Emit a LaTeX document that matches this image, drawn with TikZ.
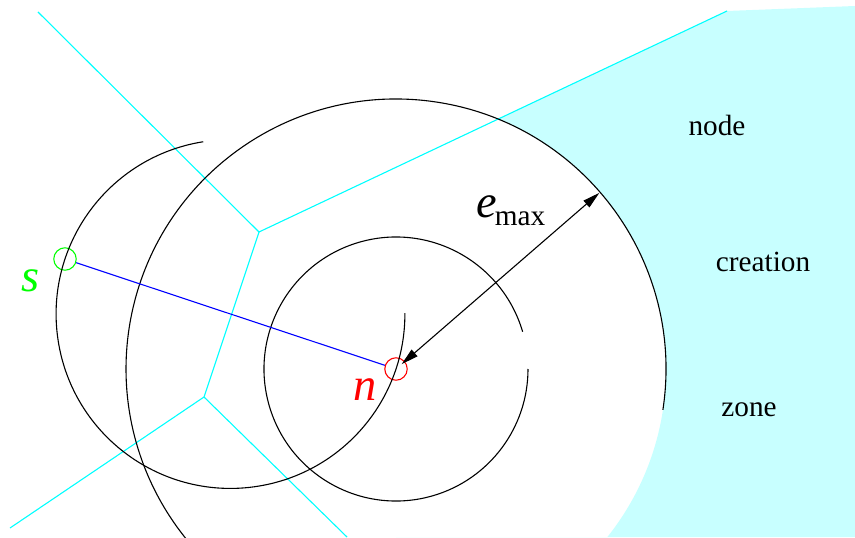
\documentclass[tikz,border=0pt]{standalone}
\usepackage{fontspec}
\setmainfont{Liberation Serif}
\usepackage{tikz}
\usetikzlibrary{calc, arrows.meta}
\definecolor{zonefill}{HTML}{C8FFFF}
\definecolor{vorline}{HTML}{00FFFF}
\definecolor{sgreen}{HTML}{00FF00}
\definecolor{nred}{HTML}{FF0000}
\definecolor{linkblue}{HTML}{0000FF}

\begin{document}
\begin{tikzpicture}[x=0.41pt, y=0.41pt,
  pt/.style={draw, circle, minimum size=9.2pt, inner sep=0pt, line width=0.45pt},
  vor/.style={vorline, line width=0.45pt},
  ring/.style={black, line width=0.45pt},
  lbl/.style={font=\fontsize{12}{14}\selectfont, inner sep=0pt},
  big/.style={font=\fontsize{19}{22}\selectfont\itshape, inner sep=0pt},
  arrow/.style={{Triangle[length=7pt,width=3.6pt]}-{Triangle[length=7pt,width=3.6pt]}, line width=0.45pt}
]
  \clip (0,0) rectangle (855,537);

  \coordinate (va) at (259,305);
  \coordinate (vb) at (204,140);
  \coordinate (vtl) at (38,525);
  \coordinate (vtr) at (727,526);
  \coordinate (vbl) at (10,9);
  \coordinate (vbot) at (347,0);

  \node[pt, draw=sgreen] (s) at (65,278) {};
  \node[pt, draw=nred] (n) at (396,168) {};
  \coordinate (mid) at ($(s.center)!0.5!(n.center)$);
  \coordinate (core) at ($(n.center)+(40.9:7.5)$);
  \coordinate (rim) at ($(n.center)+(40.9:269)$);

  \begin{scope}
    \clip (vtr) -- (855,531) -- (855,0) -- (396,0) -- (n.center) -- (va) -- cycle;
    \fill[zonefill, even odd rule] (0,0) rectangle (855,537) (n.center) circle[radius=270];
  \end{scope}

  \draw[vor] (vtl) -- (va) -- (vtr);
  \draw[vor] (va) -- (vb) -- (vbl);
  \draw[vor] (vb) -- (vbot);

  \draw[ring] ($(n.center)+(-8.7:270)$) arc[start angle=-8.7, end angle=220, radius=270];
  \draw[ring] ($(mid)+(99:174.4)$) arc[start angle=99, end angle=360.3, radius=174.4];
  \draw[ring] ($(n.center)+(16.4:132)$) arc[start angle=16.4, end angle=360, radius=132];

  \draw[linkblue, line width=0.45pt] (s) -- (n);
  \draw[arrow] (core) -- (rim);

  \node[big, text=sgreen] (slbl) at (31,256) {s};
  \node[big, text=nred] (nlbl) at (365,147) {n};
  \node[big] (elbl) at (487,330) {e};
  \node[lbl] (maxlbl) at (520,318) {max};
  \node[lbl] (txtnode) at (717,412) {node};
  \node[lbl] (txtcreation) at (763,275) {creation};
  \node[lbl] (txtzone) at (749,127) {zone};
\end{tikzpicture}
\end{document}
